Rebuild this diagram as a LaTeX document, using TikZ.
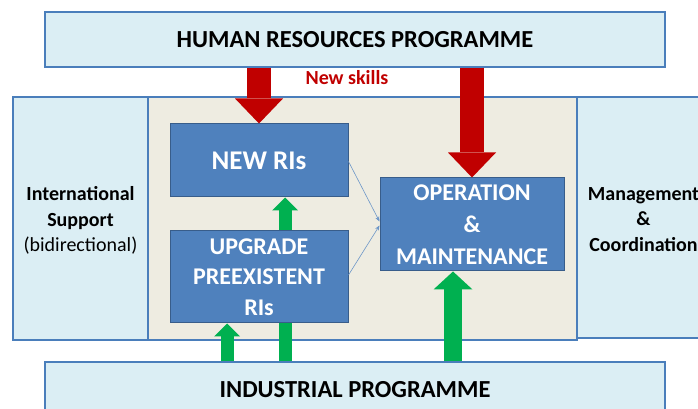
\documentclass[tikz,border=0pt]{standalone}
\usepackage{fontspec}
\setmainfont{Carlito}
\usetikzlibrary{arrows.meta}
\definecolor{paleblue}{HTML}{DBEEF4}
\definecolor{frameblue}{HTML}{4A7EBB}
\definecolor{boxblue}{HTML}{4F81BD}
\definecolor{boxedge}{HTML}{385D8A}
\definecolor{beige}{HTML}{EEECE1}
\definecolor{skillred}{HTML}{C00000}
\definecolor{growgreen}{HTML}{00B050}
\definecolor{linkblue}{HTML}{6C96C8}

\begin{document}
\begin{tikzpicture}[
        x=1pt, y=1pt,
        programme/.style={rectangle, draw=frameblue, fill=paleblue, line width=1.2pt, inner sep=0pt, font=\fontsize{24.5}{28}\selectfont\bfseries, align=center},
        support/.style={rectangle, draw=frameblue, fill=paleblue, line width=1.2pt, inner sep=0pt, font=\fontsize{20}{25.5}\selectfont, align=center},
        sidetext/.style={inner sep=0pt, font=\fontsize{20}{25.5}\selectfont\bfseries, align=center},
        area/.style={rectangle, draw=frameblue, fill=beige, line width=1.2pt, inner sep=0pt},
        infra/.style={rectangle, draw=boxedge, fill=boxblue, line width=1pt, inner sep=0pt, text=white, font=\fontsize{24}{30.5}\selectfont\bfseries, align=center},
        skillarrow/.style={-{Triangle[width=48pt, length=25pt, line width=0pt]}, line width=24pt, skillred},
        growarrow/.style={-{Triangle[width=26pt, length=13pt, line width=0pt]}, line width=13pt, growgreen},
        biggrow/.style={-{Triangle[width=39pt, length=18pt, line width=0pt]}, line width=18pt, growgreen},
        link/.style={-{Stealth[length=5pt, width=4pt]}, line width=0.6pt, linkblue}
    ]
        \useasboundingbox (0,0) rectangle (698,409);
        \clip (0,0) rectangle (698,409);

        % ========== PROGRAMMES (Top and Bottom) ==========
        \node[programme, minimum width=620, minimum height=55] (hr) at (355,369.5) {HUMAN RESOURCES PROGRAMME};
        \node[programme, minimum width=620, minimum height=56] (ind) at (355,19) {INDUSTRIAL PROGRAMME};

        % ========== SUPPORT SIDES AND CENTRE AREA ==========
        \node[support, minimum width=135, minimum height=243] (intl) at (80.5,190.5) {};
        \node[sidetext] (intltext) at (80.5,188.5) {International\\Support\\\mdseries(bidirectional)};
        \node[support, minimum width=170, minimum height=241, anchor=west] (mgmt) at (577,191.5) {};
        \node[sidetext] (mgmttext) at (643.5,189.5) {Management\\\&\\Coordination};
        \node[area, minimum width=429, minimum height=243] (centre) at (362.5,190.5) {};

        % ========== INFRASTRUCTURES ==========
        \node[infra, minimum width=178, minimum height=73, font=\fontsize{27}{30}\selectfont\bfseries] (newri) at (259,248.5) {NEW RIs};
        \node[infra, minimum width=184, minimum height=93, font=\fontsize{24}{32}\selectfont\bfseries] (op) at (472,184.5) {OPERATION\\\&\\MAINTENANCE};

        % green arrow passing behind the upgrade box
        \draw[growarrow] ([xshift=26pt]newri.south |- ind.north) -- ([xshift=26pt]newri.south);

        \node[infra, minimum width=178, minimum height=92] (upgrade) at (259,132) {UPGRADE\\PREEXISTENT\\RIs};

        % ========== NEW SKILLS ==========
        \draw[skillarrow] (newri.north |- hr.south) -- (newri.north);
        \draw[skillarrow] (op.north |- hr.south) -- (op.north);
        \node[font=\fontsize{20}{22}\selectfont\bfseries, text=skillred] (skills) at (347,331) {New skills};

        % ========== INDUSTRY ==========
        \draw[growarrow] ([xshift=-32pt]upgrade.south |- ind.north) -- ([xshift=-32pt]upgrade.south);
        \draw[biggrow] ([xshift=-19pt]op.south |- ind.north) -- ([xshift=-19pt]op.south);

        % ========== LINKS ==========
        \draw[link] ([yshift=-1pt]newri.east) -- ([yshift=3pt]op.west);
        \draw[link] ([yshift=2pt]upgrade.east) -- ([yshift=-1pt]op.west);

    \end{tikzpicture}
\end{document}
